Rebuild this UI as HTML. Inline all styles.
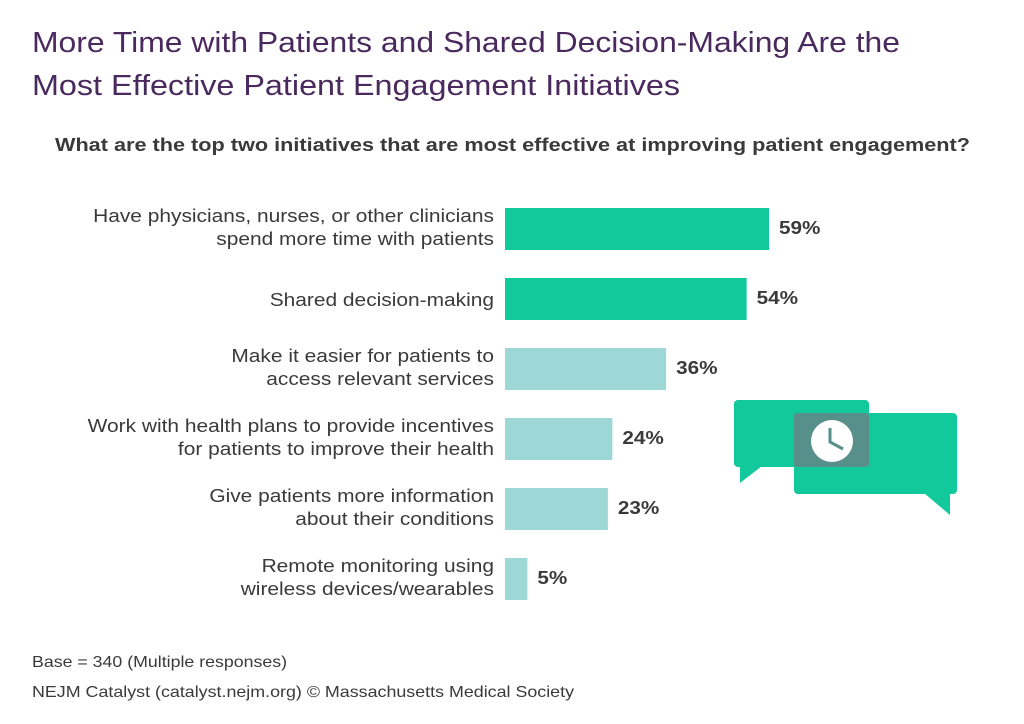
<!DOCTYPE html>
<html><head><meta charset="utf-8"><style>
body{margin:0;width:1024px;height:724px;background:#fff;font-family:"Liberation Sans",sans-serif;overflow:hidden}
svg{display:block}
</style></head><body>
<svg id="svg" width="1024" height="724">
<text x="32" y="52" font-size="29" fill="#4a2a5e" textLength="868" lengthAdjust="spacingAndGlyphs">More Time with Patients and Shared Decision-Making Are the</text>
<text x="32" y="95" font-size="29" fill="#4a2a5e" textLength="648" lengthAdjust="spacingAndGlyphs">Most Effective Patient Engagement Initiatives</text>
<text x="55" y="151" font-size="18" font-weight="bold" fill="#3a3a3a" textLength="915" lengthAdjust="spacingAndGlyphs">What are the top two initiatives that are most effective at improving patient engagement?</text>
<g id="bars"></g>
<g>
<rect x="734" y="400" width="135" height="67" rx="4" fill="#12c99b"/>
<polygon points="740,466 740,483 762,466" fill="#12c99b"/>
<rect x="794" y="413" width="163" height="81" rx="4" fill="#12c99b"/>
<polygon points="924,493 950,515 950,493" fill="#12c99b"/>
<rect x="794" y="413" width="75" height="54" rx="3" fill="#578f8a"/>
<circle cx="832" cy="441" r="21" fill="#fff"/>
<polyline points="830,428 830,442 843,449" fill="none" stroke="#578f8a" stroke-width="3"/>
</g>
<text x="32" y="667" font-size="16" fill="#3a3a3a" textLength="255" lengthAdjust="spacingAndGlyphs">Base = 340 (Multiple responses)</text>
<text x="32" y="697" font-size="16" fill="#3a3a3a" textLength="542" lengthAdjust="spacingAndGlyphs">NEJM Catalyst (catalyst.nejm.org) © Massachusetts Medical Society</text>
</svg>
<script>
const labels=[["Have physicians, nurses, or other clinicians","spend more time with patients"],["Shared decision-making"],["Make it easier for patients to","access relevant services"],["Work with health plans to provide incentives","for patients to improve their health"],["Give patients more information","about their conditions"],["Remote monitoring using","wireless devices/wearables"]];
const values=[59,54,36,24,23,5];
const highlight=[true,true,false,false,false,false];
const g=document.getElementById('bars');
const NS='http://www.w3.org/2000/svg';
const x0=505,scale=264/59,y0=208,pitch=70,bh=42;
const xs=v=>v*scale;
function stretch(t,f){const w=t.getComputedTextLength();t.setAttribute('textLength',w*f);t.setAttribute('lengthAdjust','spacingAndGlyphs');}
values.forEach((v,i)=>{
 const y=y0+i*pitch;
 const r=document.createElementNS(NS,'rect');
 r.setAttribute('x',x0);r.setAttribute('y',y);r.setAttribute('width',xs(v));r.setAttribute('height',bh);
 r.setAttribute('fill',highlight[i]?'#12c99b':'#9dd8d6');
 
 
 g.appendChild(r);
 const t=document.createElementNS(NS,'text');
 t.setAttribute('x',x0+xs(v)+10);t.setAttribute('y',y+bh/2+5);
 t.setAttribute('font-size','18');t.setAttribute('font-weight','bold');t.setAttribute('fill','#3a3a3a');
 t.textContent=v+'%';
 
 
 g.appendChild(t);
 stretch(t,1.15);
 const L=labels[i];
 L.forEach((s,j)=>{
  const c=document.createElementNS(NS,'text');
  const cy=L.length===1?y+bh/2+7:y+14+j*23;
  c.setAttribute('x',494);c.setAttribute('y',cy);c.setAttribute('text-anchor','end');
  c.setAttribute('font-size','18.5');c.setAttribute('fill','#3a3a3a');
  c.textContent=s;
  
  
  g.appendChild(c);
  stretch(c,1.13);
 });
});
</script>
</body></html>
